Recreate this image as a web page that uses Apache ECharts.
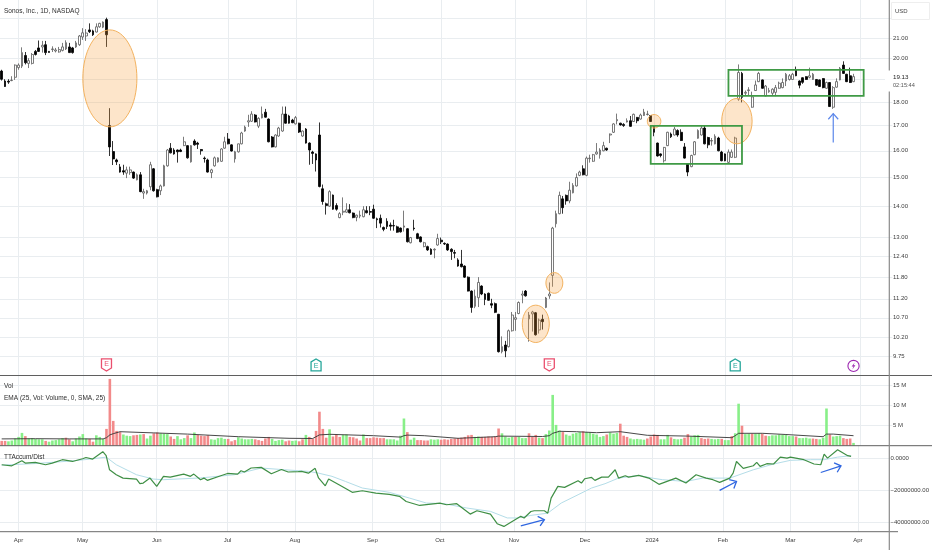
<!DOCTYPE html>
<html>
<head>
<meta charset="utf-8">
<style>html,body{margin:0;padding:0;background:#fff}#c{width:932px;height:550px;filter:blur(0.35px)}</style>
<script src="https://cdn.jsdelivr.net/npm/echarts@6/dist/echarts.min.js"></script>
</head>
<body>
<div id="c"></div>
<script>
const tickLabels=['Apr','May','Jun','Jul','Aug','Sep','Oct','Nov','Dec','2024','Feb','Mar','Apr'];
const tickIndex=[5,24,46,67,87,110,130,152,173,193,214,234,254];
const barSlots=264;
const priceTicks=[22,21,20,19,18,17,16,15,14,13,12.4,11.8,11.2,10.7,10.2,9.75];
const priceHidden=[22,19];
const volTicks=[5,10,15];
const adTicks=[0,-20,-40];

const opens=[19.39,18.93,18.92,18.95,19.10,19.55,19.62,20.13,19.75,19.75,
20.33,20.50,20.55,20.66,20.33,20.42,20.35,20.30,20.38,20.45,
20.55,20.50,20.55,20.66,21.05,21.10,21.41,21.36,21.30,21.57,
21.55,21.95,17.00,15.97,15.65,15.39,15.25,15.16,15.18,15.20,
14.92,15.10,14.45,14.45,14.67,15.32,14.57,14.53,14.70,15.43,
16.10,16.03,16.03,16.03,16.20,16.20,15.58,16.38,16.30,16.05,
15.72,15.65,15.18,15.43,15.58,15.60,16.10,16.46,16.23,15.69,
15.96,16.27,16.78,17.15,17.18,17.44,16.98,17.32,17.56,17.27,
16.54,16.15,16.58,16.78,17.48,17.40,17.23,17.07,17.10,16.58,
16.86,16.30,15.95,15.88,16.62,14.60,14.08,14.00,14.38,14.02,
13.62,13.80,13.80,13.88,13.77,13.63,13.67,13.65,13.85,13.82,
13.90,13.58,13.60,13.30,13.50,13.38,13.36,13.32,13.28,13.31,
13.26,12.82,13.28,13.10,13.00,12.70,12.70,12.62,12.60,12.75,
12.90,12.80,12.78,12.62,12.52,12.30,12.18,12.12,11.80,11.41,
11.00,11.23,11.55,11.33,11.35,11.07,11.07,10.79,9.86,10.02,
9.98,10.37,10.66,10.81,11.30,11.41,10.67,10.80,10.83,10.39,
10.66,10.97,11.28,11.85,13.42,13.75,14.25,14.37,14.18,14.46,
14.70,15.08,15.32,15.08,15.70,15.60,15.88,15.85,16.00,16.10,
16.62,16.73,17.20,17.10,17.05,17.15,17.20,17.17,17.34,17.27,
17.42,17.46,17.42,16.97,16.30,15.88,15.62,16.20,16.66,16.62,
16.80,16.73,16.15,15.50,15.40,15.85,16.49,16.62,16.90,16.52,
16.38,16.27,16.50,15.95,15.88,15.56,15.75,15.75,18.12,19.28,
18.38,18.50,17.77,18.50,18.90,18.98,18.26,18.45,18.38,18.42,
18.60,18.63,18.93,19.00,19.00,19.45,18.93,19.08,19.13,19.10,
19.00,19.00,18.98,19.04,18.60,18.86,17.77,18.65,18.98,19.67,
19.24,19.17,18.90];

const highs=[19.45,19.01,19.01,19.15,19.70,19.75,20.53,20.30,20.00,20.25,
20.40,20.87,20.85,20.85,20.35,20.58,20.50,20.55,20.75,20.88,
20.75,20.55,20.85,21.15,21.50,21.45,21.75,21.42,21.75,21.78,
21.85,22.05,17.73,16.38,15.70,15.50,15.47,15.40,15.40,15.22,
15.15,15.20,14.60,14.56,15.58,15.35,14.60,14.75,15.47,16.07,
16.30,16.10,16.05,16.08,16.55,16.22,16.22,16.45,16.35,16.07,
15.78,15.70,15.32,15.78,15.75,16.10,16.55,16.70,16.25,16.00,
16.28,16.75,17.00,17.45,17.60,17.48,17.35,17.80,17.70,17.30,
16.58,16.65,16.95,17.80,17.80,17.45,17.28,17.40,17.12,16.80,
16.90,16.33,16.00,15.90,17.13,14.75,14.12,14.55,14.40,14.10,
13.80,14.30,14.10,14.07,13.79,13.72,13.85,14.00,14.00,14.00,
14.05,13.62,13.72,13.33,13.60,13.46,13.55,13.36,13.30,13.85,
13.28,13.00,13.55,13.13,13.02,12.85,12.73,12.65,12.65,13.10,
12.98,12.83,12.80,12.65,12.60,12.35,12.60,12.14,11.82,11.43,
11.45,11.80,11.57,11.35,11.37,11.20,11.10,10.80,10.23,10.12,
10.40,10.85,10.85,11.13,11.42,11.44,10.85,10.88,10.85,10.68,
10.78,11.25,11.65,13.32,13.85,14.50,14.35,14.40,14.85,14.80,
15.15,15.25,15.45,15.78,15.85,15.88,16.30,16.10,16.35,16.12,
16.68,17.10,17.50,17.12,17.10,17.30,17.40,17.50,17.36,17.50,
17.70,17.62,17.44,17.00,16.32,15.90,16.15,16.75,16.72,16.95,
16.85,16.85,16.30,15.52,15.85,16.38,16.85,17.00,17.00,16.55,
16.50,16.65,16.55,16.00,15.90,16.05,16.05,16.55,19.70,19.35,
18.50,18.65,18.45,18.95,19.35,19.00,18.75,18.62,18.60,18.75,
18.90,19.05,19.30,19.25,19.30,19.60,18.96,19.10,19.15,19.55,
19.30,19.02,19.00,19.06,18.90,18.88,18.70,19.05,19.58,19.85,
19.26,19.55,19.26];

const lows=[18.95,18.66,18.80,18.92,18.98,19.45,19.53,19.70,19.53,19.70,
20.13,20.30,20.27,20.15,20.27,20.30,20.28,20.27,20.33,20.40,
20.25,20.22,20.50,20.60,20.90,20.85,21.25,21.10,21.28,21.52,
21.50,20.55,15.80,15.46,15.46,15.18,15.10,14.98,15.10,14.95,
14.90,14.48,14.25,14.40,14.55,14.50,14.30,14.38,14.68,15.40,
15.90,15.85,15.55,15.95,16.18,15.70,15.55,16.20,16.07,15.85,
15.55,15.18,14.98,15.40,15.55,15.58,16.08,16.25,15.97,15.55,
15.93,16.25,16.75,16.95,17.15,17.13,16.90,17.30,17.33,16.33,
16.13,16.13,16.55,16.75,17.08,17.08,17.10,17.05,16.70,16.55,
16.28,15.47,15.50,15.22,14.65,14.05,13.72,13.98,13.88,13.85,
13.60,13.70,13.78,13.76,13.60,13.50,13.60,13.63,13.76,13.70,
13.58,13.28,13.30,13.18,13.25,13.20,13.20,13.13,13.14,13.17,
12.83,12.80,13.20,12.93,12.83,12.68,12.57,12.45,12.35,12.73,
12.78,12.75,12.57,12.30,12.35,12.10,12.08,11.78,11.40,10.83,
10.95,10.98,11.30,11.03,11.15,10.95,10.82,9.84,9.82,9.73,
9.96,10.35,10.37,10.79,11.08,11.26,10.10,10.35,10.25,10.30,
10.40,10.95,11.20,11.53,13.30,13.73,13.75,14.05,14.10,14.44,
14.68,15.05,15.08,15.05,15.55,15.58,15.85,15.70,15.98,16.00,
16.30,16.70,17.05,17.00,16.95,17.13,16.95,17.15,17.10,17.25,
17.40,17.42,17.15,16.57,15.78,15.75,15.55,16.18,16.50,16.60,
16.55,16.38,15.70,15.05,15.38,15.83,16.47,16.60,16.25,16.10,
16.20,16.25,15.98,15.60,15.60,15.50,15.73,15.72,18.05,17.98,
18.30,18.30,17.75,18.48,18.88,18.58,18.24,18.40,18.30,18.25,
18.58,18.60,18.70,18.95,18.98,19.15,18.60,18.80,18.98,19.05,
18.98,18.72,18.66,18.60,18.58,17.78,17.70,18.63,18.96,19.26,
18.88,18.84,18.88];

const closes=[19.01,18.68,18.88,18.97,19.67,19.67,20.27,19.78,19.88,20.18,
20.18,20.33,20.63,20.27,20.28,20.45,20.40,20.42,20.55,20.76,
20.27,20.27,20.75,21.10,21.26,21.25,21.32,21.16,21.57,21.75,
21.82,21.16,16.15,15.69,15.58,15.20,15.20,15.28,15.28,14.98,
15.10,14.50,14.50,14.53,15.47,14.53,14.32,14.70,15.43,16.03,
15.92,15.88,15.96,15.97,16.35,15.73,16.20,16.23,16.25,16.00,
15.70,15.20,15.28,15.73,15.73,16.07,16.35,16.27,15.99,15.96,
16.27,16.70,16.94,17.20,17.48,17.15,17.30,17.48,17.35,16.35,
16.15,16.62,16.90,17.48,17.10,17.10,17.12,17.33,16.74,16.78,
16.30,16.03,15.90,15.65,14.68,14.16,14.02,14.50,13.90,13.90,
13.75,13.83,13.88,13.78,13.62,13.70,13.70,13.88,13.78,13.80,
13.60,13.55,13.44,13.24,13.33,13.34,13.35,13.15,13.16,13.35,
12.85,12.98,13.26,12.95,12.85,12.82,12.60,12.47,12.62,12.95,
12.85,12.78,12.60,12.55,12.50,12.12,12.10,11.80,11.41,10.97,
11.27,11.65,11.33,11.18,11.16,11.03,10.84,9.86,9.98,9.88,
10.37,10.77,10.70,11.10,11.33,11.28,10.77,10.85,10.27,10.64,
10.60,11.22,11.33,13.28,13.75,14.37,13.95,14.18,14.55,14.72,
15.00,15.20,15.10,15.72,15.72,15.85,15.95,16.03,16.20,16.03,
16.66,17.07,17.25,17.03,17.00,17.20,16.97,17.47,17.20,17.44,
17.56,17.48,17.17,16.73,15.80,15.82,16.13,16.73,16.55,16.86,
16.62,16.40,15.72,15.20,15.82,16.35,16.80,16.90,16.27,16.23,
16.40,16.57,16.00,15.62,15.62,15.95,15.95,16.50,19.32,18.20,
18.42,18.53,18.22,18.75,19.28,18.60,18.70,18.50,18.56,18.63,
18.83,18.86,19.24,19.17,19.24,19.17,18.74,18.87,19.00,19.17,
19.24,18.74,18.68,18.63,18.86,17.80,18.63,18.90,19.52,19.28,
18.90,18.86,19.13];

const volumes=[1.2,1.2,1.1,1.3,1.8,2.2,3.2,2.4,1.8,1.9,
1.7,1.6,1.6,1.2,1.0,1.3,1.4,1.6,1.9,2.0,
1.6,1.1,1.8,2.3,2.9,1.8,1.7,1.0,2.6,2.2,
1.7,4.2,16.7,6.2,3.7,3.4,2.8,2.5,2.4,2.6,
2.7,2.8,2.9,1.8,2.5,3.1,3.3,3.1,3.0,2.9,
2.3,1.7,2.4,1.6,1.9,2.6,1.9,3.3,2.7,2.5,
2.4,2.6,1.6,1.5,1.9,2.0,1.7,1.7,1.1,1.4,
2.1,1.8,1.6,1.6,1.7,1.6,1.4,1.2,1.8,2.2,
1.7,1.2,1.4,1.5,1.1,1.3,1.2,1.3,1.1,1.6,
2.7,2.2,1.7,3.7,8.5,4.2,2.0,4.1,2.3,2.8,
2.2,2.7,2.8,2.2,2.1,1.8,1.3,2.8,1.9,1.9,
2.1,2.0,1.9,1.9,1.6,1.6,1.6,1.3,2.5,6.8,
3.4,1.5,2.0,1.4,1.4,1.3,1.3,1.6,1.5,1.6,
1.5,1.6,1.5,1.7,1.8,1.9,2.0,2.2,2.6,2.7,
2.2,2.3,2.2,2.2,2.3,2.2,2.3,4.3,3.1,2.3,
2.0,2.2,2.2,2.2,1.9,1.9,3.1,2.2,2.7,2.0,
1.9,2.9,3.8,12.7,5.2,3.8,3.4,2.8,2.5,3.0,
3.2,3.4,3.6,3.4,3.3,3.0,2.8,2.2,2.4,2.8,
3.3,3.0,3.2,5.5,2.5,2.2,1.8,1.6,1.7,1.6,
1.5,1.8,2.3,2.8,2.7,1.6,1.6,2.7,2.1,1.7,
1.6,1.7,2.0,2.9,2.3,2.6,2.7,1.9,1.7,1.8,
1.7,1.6,1.7,1.7,1.4,1.4,2.4,3.1,10.5,5.0,
2.9,3.0,3.0,3.0,3.1,3.0,2.5,2.4,2.6,2.6,
2.8,2.7,2.7,2.4,2.4,2.3,1.9,1.9,2.0,1.8,
1.8,1.7,1.6,2.0,9.3,2.8,2.3,2.4,2.5,1.9,
1.7,1.8,0.7];

// bars whose volume column is red in the picture; all others are green
const volumeRedBars=[0,1,7,13,19,20,26,27,31,32,33,34,35,39,40,42,45,46,50,51,55,58,59,60,61,67,68,69,75,76,77,78,79,84,85,88,89,91,
92,93,94,95,96,98,99,100,103,104,105,106,108,109,110,111,112,113,120,123,124,125,126,130,131,132,133,134,135,136,137,138,139,142,143,144,145,146,147,152,156,157,158,160,166,172,179,183,
184,185,191,192,193,194,198,202,203,207,208,209,213,216,219,222,225,226,235,240,241,245,249,250,251];

const emaPoints=[[0,1.7],[10,1.75],[20,1.7],[30,1.7],[31,2.0],[32,2.7],[33,3.0],[35,3.5],[45,3.2],[55,2.9],[70,2.25],[85,1.85],[92,1.8],[94,2.7],[97,2.85],[110,2.5],[118,2.15],[119,2.5],[120,2.65],[125,2.5],[135,1.85],[146,2.25],[147,2.4],[160,2.3],[162,2.5],[163,3.1],[165,3.6],[170,3.5],[176,3.25],[183,3.5],[191,2.6],[203,2.4],[216,2.0],[217,2.5],[218,3.1],[225,3.1],[232,2.8],[243,2.25],[244,2.9],[246,2.9],[252,2.5]];

const adPoints=[[0,-3.75],[3,-4.4],[6,-1.25],[7,-2.7],[10,-2.3],[13,-3.75],[15,-2.7],[18,-0.6],[21,-1.7],[24,0],[25,0.8],[27,-0.2],[30,4.4],[31,1.9],[32,-6.9],[34,-10],[36,-12.1],[40,-12.7],[41,-15.6],[42,-15.2],[44,-12.1],[46,-17.3],[48,-11],[50,-11.5],[54,-9.6],[56,-11],[57,-9.6],[59,-13.1],[60,-12.1],[61,-13.5],[65,-10.6],[67,-9.2],[70,-9.6],[71,-7.5],[72,-8.3],[74,-5.8],[77,-5.4],[80,-9.4],[83,-6.7],[85,-8.3],[88,-8.1],[89,-7.9],[91,-9],[92,-7.5],[93,-6],[94,-12],[96,-16.9],[97,-12.7],[101,-17.3],[104,-21],[107,-20],[111,-21.5],[115,-22.3],[118,-23.5],[120,-26.7],[124,-29.2],[130,-27.7],[132,-28.75],[135,-28.1],[139,-34.6],[141,-32.5],[145,-34.6],[147,-40.6],[149,-42.3],[154,-36],[155,-37],[157,-33],[158,-32.5],[161,-32.5],[162,-34],[163,-24.6],[165,-17.3],[167,-17.9],[171,-13.75],[172,-15.2],[173,-12.5],[175,-11.7],[176,-13.5],[178,-11.5],[180,-11.5],[182,-6.9],[183,-12.1],[185,-10.6],[186,-11.5],[189,-10.4],[192,-12.1],[195,-16],[200,-12.1],[203,-15.2],[206,-10],[209,-12.1],[211,-13.1],[213,-14.8],[216,-12.1],[217,-9],[218,-1.7],[220,-6],[223,-4.4],[224,-2.3],[225,-4.8],[227,-3.1],[229,-3.3],[231,1],[233,0.4],[234,1],[238,-0.6],[241,-3.3],[243,-3.75],[244,2.9],[245,0.4],[248,5.6],[251,1.9],[252,1.5]];

const adAvgPoints=[[0,-4],[10,-3],[20,-1.5],[25,-0.5],[31,1],[34,-3.75],[40,-10],[45,-12.7],[48,-13.1],[59,-12],[69,-10],[77,-5.8],[84,-6.9],[91,-7.9],[94,-9],[98,-11],[102,-14.2],[107,-18.3],[115,-21],[121,-24.6],[126,-27.7],[131,-28],[138,-30.8],[145,-32.9],[150,-37],[153,-37],[157,-35.4],[162,-34],[166,-27.7],[171,-22.5],[175,-18.3],[179,-15.6],[183,-12.1],[189,-10.4],[193,-12.1],[196,-13.1],[203,-14.2],[208,-12.1],[216,-12.1],[223,-6.9],[229,-3.3],[234,-1],[240,-0.6],[244,-0.6],[248,1],[252,1.9]];

// drawings anchored in chart units: [bar, price, bar, price]
const ellipses=[[23.9,21.41,40.1,16.95],[190.8,17.46,195.2,16.9],[212.9,18.15,222.1,16.27],[153.9,11.03,162.3,10.08],[160.8,11.93,166.1,11.35]];
const boxes=[[192,16.99,219.2,15.5],[215.1,19.44,255.2,18.26]];
const priceArrows=[[245.9,16.32,245.9,17.5]];
const adArrows=[[153.9,-41.9,161,-38.1],[212.9,-19.8,217.8,-14.2],[242.8,-8.6,248.9,-4.4]];
const eventBars=[31,93,162,217,252];
const eventKinds=['red','green','red','green','bolt'];
const eventPrice=9.55;

const categories=Array.from({length:barSlots},(_,i)=>{const k=tickIndex.indexOf(i);return k>=0?tickLabels[k]:'';});
const isTick=(i)=>tickIndex.indexOf(i)>=0;
const candleData=opens.map((o,i)=>[o,closes[i],lows[i],highs[i]]);

const GL='#e9edf0', TXT='#3c3c3c', F='"Liberation Sans",Arial,sans-serif';

function xAxis(idx,showLabel){
  return {type:'category',gridIndex:idx,data:categories,boundaryGap:true,
    axisLine:{show:false},axisTick:{show:false},
    splitLine:{show:true,interval:(i)=>isTick(i),alignWithLabel:true,lineStyle:{color:GL,width:1}},
    axisLabel:{show:showLabel,interval:(i)=>isTick(i),color:TXT,fontSize:6,fontFamily:F,margin:6,hideOverlap:false}};
}
const axisCommon={position:'right',offset:-3.4,scale:false,axisLine:{show:false},
  splitLine:{show:true,lineStyle:{color:GL,width:1}},
};

function arrowPts(api){
  const a=api.coord([api.value(0),api.value(1)]),b=api.coord([api.value(2),api.value(3)]);
  const ang=Math.atan2(b[1]-a[1],b[0]-a[0]),L=7.5;
  const h1=[b[0]-L*Math.cos(ang-0.72),b[1]-L*Math.sin(ang-0.72)];
  const h2=[b[0]-L*Math.cos(ang+0.72),b[1]-L*Math.sin(ang+0.72)];
  return {a,b,h1,h2};
}
function arrowItem(color,w){
  return (params,api)=>{
    const p=arrowPts(api);
    return {type:'group',children:[
      {type:'line',shape:{x1:p.a[0],y1:p.a[1],x2:p.b[0],y2:p.b[1]},style:{stroke:color,lineWidth:w}},
      {type:'polyline',shape:{points:[p.h1,p.b,p.h2]},style:{stroke:color,lineWidth:w,fill:null}}
    ]};
  };
}

const option={
  animation:false,
  backgroundColor:'#ffffff',
  grid:[
    {left:-2.6,width:895,top:0,height:375.5},
    {left:-2.6,width:895,top:375.5,height:70.2},
    {left:-2.6,width:895,top:445.7,height:86}
  ],
  xAxis:[xAxis(0,false),xAxis(1,false),xAxis(2,true)],
  yAxis:[
    Object.assign({},axisCommon,{type:'log',gridIndex:0,min:9.31,max:23.01,
      axisTick:{show:false,customValues:priceTicks},
      axisLabel:{customValues:priceTicks,color:TXT,fontSize:6,fontFamily:F,margin:4,
        formatter:(v)=>priceHidden.indexOf(+(+v).toFixed(2))>=0?'':(+v).toFixed(2)}}),
    Object.assign({},axisCommon,{type:'value',gridIndex:1,min:0,max:17.55,
      axisTick:{show:false,customValues:volTicks},
      axisLabel:{customValues:volTicks,color:TXT,fontSize:6,fontFamily:F,margin:4,formatter:(v)=>v+' M'}}),
    Object.assign({},axisCommon,{type:'value',gridIndex:2,min:-45.6,max:8.15,
      axisTick:{show:false,customValues:adTicks},
      axisLabel:{customValues:adTicks,color:TXT,fontSize:6,fontFamily:F,margin:4,
        formatter:(v)=>v===0?'0.0000':'\u2212'+Math.abs(v*1e6).toFixed(2)}})
  ],
  series:[
    {type:'candlestick',xAxisIndex:0,yAxisIndex:0,data:candleData,barWidth:2.3,
      itemStyle:{color:'#ffffff',color0:'#000000',borderColor:'#5a5a5a',borderColor0:'#000000',borderWidth:0.8},z:3},
    {type:'custom',xAxisIndex:0,yAxisIndex:0,z:6,silent:true,clip:false,
      encode:{x:[0,2],y:[1,3]},data:ellipses,
      renderItem:(params,api)=>{
        const a=api.coord([api.value(0),api.value(1)]),b=api.coord([api.value(2),api.value(3)]);
        return {type:'ellipse',shape:{cx:(a[0]+b[0])/2,cy:(a[1]+b[1])/2,rx:Math.abs(b[0]-a[0])/2,ry:Math.abs(b[1]-a[1])/2},
          style:{fill:'rgba(247,160,60,0.27)',stroke:'#f3b25f',lineWidth:1}};
      }},
    {type:'custom',xAxisIndex:0,yAxisIndex:0,z:6,silent:true,clip:false,
      encode:{x:[0,2],y:[1,3]},data:boxes,
      renderItem:(params,api)=>{
        const a=api.coord([api.value(0),api.value(1)]),b=api.coord([api.value(2),api.value(3)]);
        return {type:'rect',shape:{x:a[0],y:a[1],width:b[0]-a[0],height:b[1]-a[1]},
          style:{fill:null,stroke:'#3f9a45',lineWidth:1.8}};
      }},
    {type:'custom',xAxisIndex:0,yAxisIndex:0,z:6,silent:true,clip:false,
      encode:{x:[0,2],y:[1,3]},data:priceArrows,renderItem:arrowItem('#5b86ea',1.2)},
    {type:'custom',xAxisIndex:0,yAxisIndex:0,z:6,silent:true,clip:false,
      encode:{x:0,y:1},data:eventBars.map((b,k)=>[b,eventPrice,k]),
      renderItem:(params,api)=>{
        const c=api.coord([api.value(0),api.value(1)]),k=eventKinds[api.value(2)];
        const x=c[0],y=c[1];
        if(k==='bolt'){
          return {type:'group',children:[
            {type:'circle',shape:{cx:x,cy:y+1,r:5.6},style:{fill:'#fff',stroke:'#9c27b0',lineWidth:1.1}},
            {type:'polygon',shape:{points:[[x+1.2,y-2.5],[x-1.9,y+1.5],[x,y+1.5],[x-1.2,y+4.5],[x+1.9,y+0.3],[x,y+0.3]]},style:{fill:'#9c27b0'}}
          ]};
        }
        const col=k==='red'?'#ea4f6e':'#26a69a';
        const pts=k==='red'
          ?[[x-5,y-6],[x+5,y-6],[x+5,y+3],[x,y+6],[x-5,y+3]]
          :[[x,y-6],[x+5,y-3],[x+5,y+6],[x-5,y+6],[x-5,y-3]];
        return {type:'group',children:[
          {type:'polygon',shape:{points:pts},style:{fill:'#fff',stroke:col,lineWidth:1.3}},
          {type:'text',style:{text:'E',x:x,y:y+(k==='red'?-0.8:0.8),fill:col,font:'7px '+F,textAlign:'center',textVerticalAlign:'middle'}}
        ]};
      }},
    {type:'bar',xAxisIndex:1,yAxisIndex:1,data:volumes,barWidth:2.6,
      itemStyle:{color:(p)=>volumeRedBars.indexOf(p.dataIndex)>=0?'#f28a8a':'#88ef88'},z:2},
    {type:'line',xAxisIndex:1,yAxisIndex:1,data:emaPoints,showSymbol:false,lineStyle:{color:'#333333',width:0.9},z:3},
    {type:'line',xAxisIndex:2,yAxisIndex:2,data:adAvgPoints,showSymbol:false,lineStyle:{color:'#b4dde8',width:1},z:3},
    {type:'line',xAxisIndex:2,yAxisIndex:2,data:adPoints,showSymbol:false,lineStyle:{color:'#3f8f45',width:1.2},z:4},
    {type:'custom',xAxisIndex:2,yAxisIndex:2,z:6,silent:true,clip:false,
      encode:{x:[0,2],y:[1,3]},data:adArrows,renderItem:arrowItem('#2f66e0',1.3)}
  ],
  graphic:{elements:[
    {type:'line',z:50,shape:{x1:0,y1:375.5,x2:932,y2:375.5},style:{stroke:'#5f5f5f',lineWidth:1}},
    {type:'line',z:50,shape:{x1:0,y1:445.7,x2:932,y2:445.7},style:{stroke:'#5f5f5f',lineWidth:1}},
    {type:'line',z:50,shape:{x1:0,y1:531.7,x2:898,y2:531.7},style:{stroke:'#6a6a6a',lineWidth:1}},
    {type:'line',z:50,shape:{x1:889.3,y1:0,x2:889.3,y2:550},style:{stroke:'#8a8a8a',lineWidth:1.2}},
    {type:'rect',z:51,shape:{x:885,y:70.5,width:40,height:21},style:{fill:'#fff'}},
    {type:'rect',z:51,shape:{x:891.5,y:2.5,width:38,height:17},style:{fill:'#fff',stroke:'#eeeeee',lineWidth:1}},
    {type:'text',z:52,style:{text:'USD',x:895,y:11,fill:'#444',font:'6px '+F,textVerticalAlign:'middle'}},
    {type:'text',z:52,style:{text:'19.13',x:893,y:77,fill:'#222',font:'6.2px '+F,textVerticalAlign:'middle'}},
    {type:'text',z:52,style:{text:'02:15:44',x:893,y:85.6,fill:'#555',font:'5.6px '+F,textVerticalAlign:'middle'}},
    {type:'text',z:52,style:{text:'Sonos, Inc., 1D, NASDAQ',x:4,y:11,fill:'#2e2e2e',font:'6.5px '+F,textVerticalAlign:'middle'}},
    {type:'text',z:52,style:{text:'Vol',x:4,y:386.5,fill:'#2e2e2e',font:'6.5px '+F,textVerticalAlign:'middle'}},
    {type:'text',z:52,style:{text:'EMA (25, Vol: Volume, 0, SMA, 25)',x:4,y:398,fill:'#2e2e2e',font:'6.5px '+F,textVerticalAlign:'middle'}},
    {type:'text',z:52,style:{text:'TTAccum/Dist',x:4,y:457,fill:'#2e2e2e',font:'6.5px '+F,textVerticalAlign:'middle'}}
  ]}
};
const chart=echarts.init(document.getElementById('c'),null,{renderer:'canvas',width:932,height:550});
chart.setOption(option);
</script>
</body>
</html>
